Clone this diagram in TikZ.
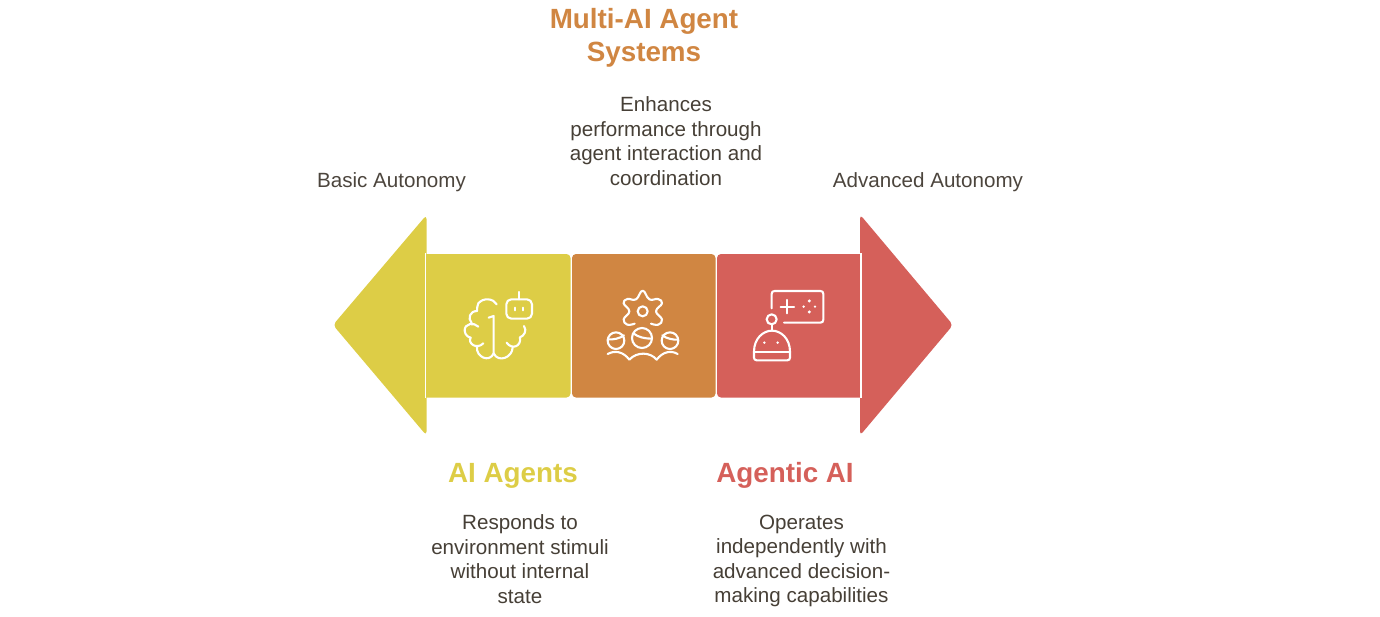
\documentclass[tikz,border=0pt]{standalone}
\usepackage{fontspec}
\setmainfont{Liberation Sans}
\definecolor{cyel}{HTML}{DDCD46}
\definecolor{cora}{HTML}{D08642}
\definecolor{cred}{HTML}{D5605A}
\definecolor{ctxt}{HTML}{463F36}
\tikzset{
 body/.style={text=ctxt,align=center,font=\fontsize{20.6}{24.5}\selectfont,inner sep=0pt,anchor=center},
 note/.style={text=ctxt!90!gray,font=\fontsize{20.6}{24.5}\selectfont,inner sep=0pt,anchor=center},
 head/.style={align=center,font=\fontsize{27.8}{33.5}\selectfont\bfseries,inner sep=0pt,anchor=center},
 icon/.style={draw=white,line width=2.1pt,line cap=round,line join=round},
 panel/.style={rounded corners=4pt},
 arrowhead/.style={rounded corners=4pt},
 zoomed/.style={x=0.3333pt,y=-0.3333pt}
}
\begin{document}
\begin{tikzpicture}[x=1pt,y=-1pt]
\useasboundingbox (0,0) rectangle (1380,616);
% arrow heads
\fill[cyel,arrowhead] (333,325) -- (426.5,215) -- (426.5,435.5) -- cycle;
\fill[cred,arrowhead] (953,325) -- (860,214.5) -- (860,435.5) -- cycle;
% panels
\fill[cyel] (500,254) -- (426,254) -- (426,397.5) -- (500,397.5) [rounded corners=4pt] -- (570.5,397.5) -- (570.5,254) -- cycle;
\fill[cora,panel] (572,254) rectangle (715.5,397.5);
\fill[cred] (790,397.5) [rounded corners=4pt] -- (717,397.5) -- (717,254) -- (790,254) [sharp corners] -- (861,254) -- (861,397.5) -- cycle;
\draw[white,line width=1.8pt] (425.5,253) -- (425.5,398);
\draw[white,line width=1.8pt] (861,253) -- (861,398);
% brain icon
\begin{scope}[shift={(330,210)},zoomed]
\draw[icon] (500,283) .. controls (490,265) and (460,262) .. (445,280)
 .. controls (442,287) and (441,295) .. (441,303);
\draw[icon] (441,303) .. controls (420,303) and (412,325) .. (425,339);
\draw[icon] (445,350) .. controls (432,336) and (403,340) .. (404,362)
 .. controls (405,375) and (415,382) .. (422,383);
\draw[icon] (422,383) .. controls (412,400) and (440,420) .. (460,400);
\draw[icon] (441,412) .. controls (438,440) and (478,460) .. (491,430)
 .. controls (505,460) and (548,442) .. (548,412);
\draw[icon] (491,430) -- (491,318) -- (476,323);
\draw[icon] (530,398) .. controls (545,420) and (575,410) .. (570,382)
 .. controls (582,378) and (592,362) .. (582,348);
\draw[icon] (567,246) -- (567,268);
\draw[icon,rounded corners=5pt] (529,268) rectangle (606,326);
\draw[icon] (554,293) -- (554,301) (580,293) -- (580,301);
\end{scope}
% team icon
\begin{scope}[shift={(570,250)},zoomed]
\draw[icon] plot[smooth,tension=0.75] coordinates {(194,221) (172,224) (161,208) (178,184) (161,160) (172,147) (198,148) (218,122) (238,148) (264,147) (276,160) (258,184) (276,208) (265,224) (243,221)};
\draw[icon] (218,184) circle (15);
\draw[icon] (138,272) circle (25);
\draw[icon] (216,264) circle (30);
\draw[icon] (300,272) circle (25);
\draw[icon] (113,268) .. controls (130,270) and (150,265) .. (162,256);
\draw[icon] (190,250) .. controls (205,262) and (225,266) .. (245,266);
\draw[icon] (277,256) .. controls (290,266) and (310,270) .. (324,269);
\draw[icon] (113,312) .. controls (135,300) and (160,305) .. (178,329)
 .. controls (200,305) and (240,305) .. (260,329)
 .. controls (278,305) and (303,300) .. (323,312);
\end{scope}
% robot icon
\begin{scope}[shift={(710,210)},zoomed]
\draw[icon] (185,295) -- (185,252) .. controls (185,246) and (188,243) .. (194,243) -- (331,243) .. controls (337,243) and (340,246) .. (340,252) -- (340,329) .. controls (340,335) and (337,338) .. (331,338) -- (222,338);
\draw[icon] (212,290) -- (252,290) (232,270) -- (232,310);
\fill[white] (298,273) circle (5) (298,306) circle (5) (281,290) circle (4) (315,290) circle (4);
\draw[icon] (185,328) circle (15);
\draw[icon] (185,343) -- (185,362);
\draw[icon] (132,425) .. controls (132,385) and (160,362) .. (186,362) .. controls (212,362) and (240,385) .. (240,425) -- (240,443) .. controls (240,448) and (237,451) .. (232,451) -- (140,451) .. controls (135,451) and (132,448) .. (132,443) -- cycle;
\draw[icon] (132,425) -- (240,425);
\fill[white] (163,398) circle (4) (203,398) circle (4);
\end{scope}
% texts
\node[head,text=cora] (t2) at (644,38) {Multi-AI Agent\\Systems};
\node[body] (d2) at (666,141) {Enhances\\performance through\\agent interaction and\\coordination};
\node[note] (lo) at (391.5,182.5) {Basic Autonomy};
\node[note] (hi) at (928,182.5) {Advanced Autonomy};
\node[head,text=cyel] (t1) at (513,475.5) {AI Agents};
\node[head,text=cred] (t3) at (785,475.5) {Agentic AI};
\node[body] (d1) at (520,559) {Responds to\\environment stimuli\\without internal\\state};
\node[body] (d3) at (801.5,561) {Operates\\independently with\\advanced decision-\\making capabilities};
\end{tikzpicture}
\end{document}
